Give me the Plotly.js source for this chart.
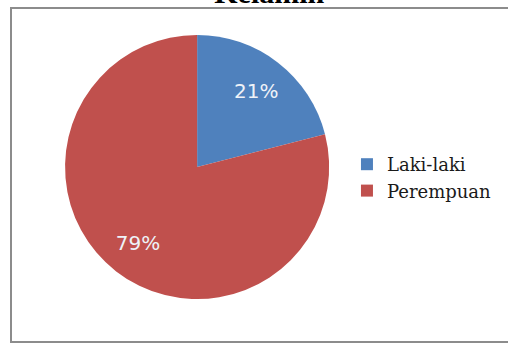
<!DOCTYPE html>
<html>
<head>
<meta charset="utf-8">
<script src="https://cdn.plot.ly/plotly-3.0.1.min.js"></script>
<style>html,body{margin:0;padding:0;background:#fff;}#chart{width:508px;height:343px;}</style>
</head>
<body>
<div id="chart"></div>
<script>
var labels = ["Laki-laki", "Perempuan"];
var values = [21, 79];
var colors = ["#4F81BD", "#C0504D"];
var titleText = "Kelamin";

var pieDomain = {x: [0.128, 0.648], y: [0.128, 0.898]};

var slices = {
  type: "pie",
  labels: labels,
  values: values,
  sort: false,
  direction: "clockwise",
  rotation: 0,
  marker: {colors: colors, line: {width: 0}},
  textinfo: "none",
  hoverinfo: "none",
  domain: pieDomain
};

// transparent ring on top, only used to place the percentage labels further out
var labelRing = {
  type: "pie",
  labels: labels,
  values: values,
  sort: false,
  direction: "clockwise",
  rotation: 0,
  hole: 0.46,
  showlegend: false,
  marker: {colors: ["rgba(0,0,0,0)", "rgba(0,0,0,0)"], line: {width: 0}},
  texttemplate: "%{percent:.0%}",
  textposition: "inside",
  insidetextorientation: "horizontal",
  insidetextfont: {family: "DejaVu Sans", size: 20, color: "#eef2f8"},
  hoverinfo: "none",
  domain: pieDomain
};

var layout = {
  width: 508,
  height: 343,
  margin: {l: 0, r: 0, t: 0, b: 0},
  paper_bgcolor: "#ffffff",
  title: {
    text: titleText,
    font: {family: "Liberation Serif", size: 30, color: "#000000", weight: "bold"},
    x: 0.53, xanchor: "center",
    y: 0.99, yanchor: "bottom", yref: "container"
  },
  showlegend: true,
  legend: {
    x: 0.683, xanchor: "left",
    y: 0.4825, yanchor: "middle",
    font: {family: "DejaVu Serif", size: 18, color: "#1a1a1a"},
    bgcolor: "rgba(0,0,0,0)"
  },
  shapes: [{
    type: "rect", xref: "paper", yref: "paper",
    x0: 11/508, x1: 1.02, y0: 1/343, y1: 335/343,
    line: {color: "#8c8c8c", width: 2},
    layer: "below"
  }]
};

Plotly.newPlot("chart", [slices, labelRing], layout, {staticPlot: true, displayModeBar: false});
</script>
</body>
</html>
